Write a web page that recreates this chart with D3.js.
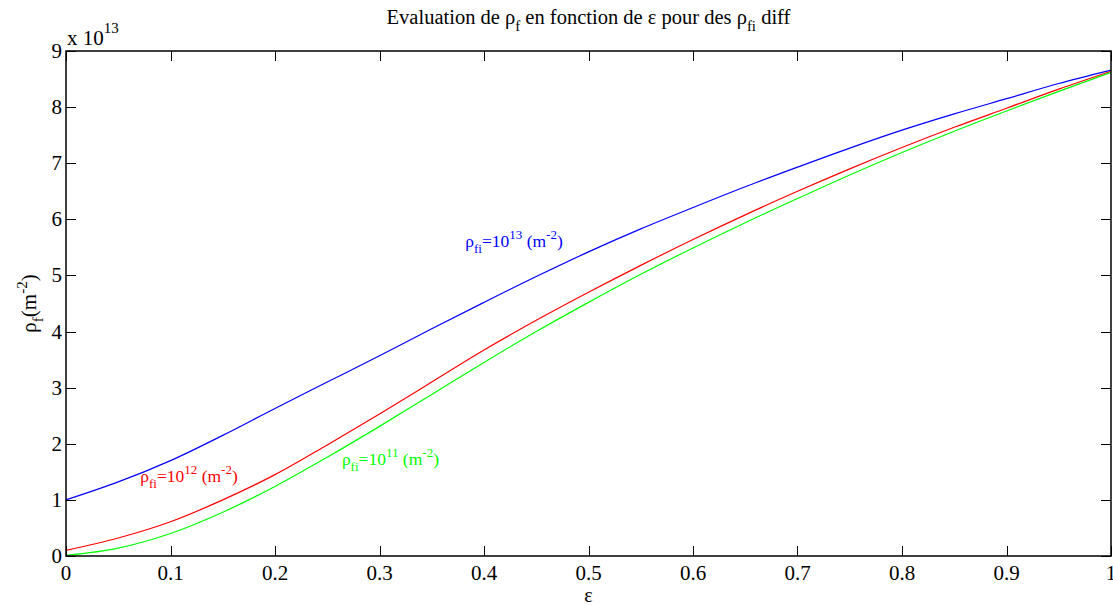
<!DOCTYPE html>
<html>
<head>
<meta charset="utf-8">
<script src="https://cdn.jsdelivr.net/npm/d3@7"></script>
<style>
  body { margin: 0; background: #fff; }
  text { font-family: "Liberation Serif", "Times New Roman", serif; }
</style>
</head>
<body>
<div id="chart"></div>
<script>
//---------------------------------- Data --------------------
var eps = [0, 0.05, 0.1, 0.15, 0.2, 0.25, 0.3, 0.35, 0.4, 0.45, 0.5,
           0.55, 0.6, 0.65, 0.7, 0.75, 0.8, 0.85, 0.9, 0.95, 1];
// rho_f in units of 1e13 m^-2
var rho13 = [1.0, 1.32, 1.70, 2.15, 2.63, 3.10, 3.57, 4.05, 4.52, 4.98, 5.42,
             5.83, 6.21, 6.58, 6.93, 7.27, 7.59, 7.88, 8.15, 8.42, 8.66];
var rho12 = [0.10, 0.32, 0.61, 1.00, 1.45, 1.98, 2.53, 3.10, 3.67, 4.20, 4.70,
             5.18, 5.64, 6.08, 6.50, 6.90, 7.28, 7.64, 7.98, 8.32, 8.64];
var rho11 = [0.01, 0.14, 0.40, 0.78, 1.24, 1.76, 2.31, 2.88, 3.45, 4.00, 4.52,
             5.02, 5.49, 5.94, 6.37, 6.79, 7.19, 7.57, 7.93, 8.28, 8.62];

var xTicks = [0, 0.1, 0.2, 0.3, 0.4, 0.5, 0.6, 0.7, 0.8, 0.9, 1];
var xTickLabels = ["0", "0.1", "0.2", "0.3", "0.4", "0.5", "0.6", "0.7", "0.8", "0.9", "1"];
var yTicks = [0, 1, 2, 3, 4, 5, 6, 7, 8, 9];

var seriesExp = ["13", "12", "11"];
var seriesColors = ["#0000ff", "#ff0000", "#00ff00"];
// label anchor (data units, left/baseline)
var labelX = [0.382, 0.071, 0.264];
var labelY = [5.50, 1.31, 1.62];

//---------------------------------- Layout --------------------
var width = 1113, height = 605;
var mLeft = 66, mRight = 1111, mTop = 51, mBottom = 556;
var tickLen = 10;

var svg = d3.select("#chart").append("svg")
  .attr("width", width)
  .attr("height", height)
  .style("display", "block");

svg.append("rect").attr("width", width).attr("height", height).attr("fill", "#fff");

var x_scale = d3.scaleLinear().domain([0, 1]).range([mLeft, mRight]);
var y_scale = d3.scaleLinear().domain([0, 9]).range([mBottom, mTop]);

//---------------------------------- Curves --------------------
var line = d3.line()
  .x(function(d) { return x_scale(d[0]); })
  .y(function(d) { return y_scale(d[1]); })
  .curve(d3.curveCatmullRom.alpha(0.5));

[rho13, rho12, rho11].forEach(function(vals, i) {
  svg.append("path")
    .datum(eps.map(function(e, j) { return [e, vals[j]]; }))
    .attr("d", line)
    .attr("fill", "none")
    .attr("stroke", seriesColors[i])
    .attr("stroke-width", 1.2);
});

//---------------------------------- Axes (box, inward ticks) --------------------
var ax = svg.append("g").attr("stroke", "#000").attr("stroke-width", 1);

ax.append("rect")
  .attr("x", mLeft).attr("y", mTop)
  .attr("width", mRight - mLeft).attr("height", mBottom - mTop)
  .attr("fill", "none")
  .attr("stroke-width", 1.5);

xTicks.forEach(function(t) {
  var px = Math.round(x_scale(t)) + 0.5;
  ax.append("line").attr("x1", px).attr("x2", px).attr("y1", mBottom).attr("y2", mBottom - tickLen);
  ax.append("line").attr("x1", px).attr("x2", px).attr("y1", mTop).attr("y2", mTop + tickLen);
});
yTicks.forEach(function(t) {
  var py = Math.round(y_scale(t)) + 0.5;
  ax.append("line").attr("x1", mLeft).attr("x2", mLeft + tickLen).attr("y1", py).attr("y2", py);
  ax.append("line").attr("x1", mRight).attr("x2", mRight - tickLen).attr("y1", py).attr("y2", py);
});

svg.selectAll(".xlab").data(xTicks).enter().append("text")
  .attr("class", "xlab")
  .attr("x", function(d) { return x_scale(d); })
  .attr("y", 580)
  .attr("text-anchor", "middle")
  .attr("font-size", 21)
  .text(function(d, i) { return xTickLabels[i]; });

svg.selectAll(".ylab").data(yTicks).enter().append("text")
  .attr("class", "ylab")
  .attr("x", 62)
  .attr("y", function(d) { return y_scale(d) + 7; })
  .attr("text-anchor", "end")
  .attr("font-size", 21)
  .text(function(d) { return d; });

// exponent
var expo = svg.append("text").attr("x", 67).attr("y", 45).attr("font-size", 21);
expo.append("tspan").text("x 10");
expo.append("tspan").attr("dy", -12).attr("font-size", 15).text("13");

//---------------------------------- Title and axis labels --------------------
var title = svg.append("text")
  .attr("x", (mLeft + mRight) / 2).attr("y", 24)
  .attr("text-anchor", "middle")
  .attr("font-size", 20.5);
title.append("tspan").text("Evaluation de ρ");
title.append("tspan").attr("dy", 7).attr("font-size", 15).text("f");
title.append("tspan").attr("dy", -7).text(" en fonction de ε pour des ρ");
title.append("tspan").attr("dy", 7).attr("font-size", 15).text("fi");
title.append("tspan").attr("dy", -7).text(" diff");

svg.append("text")
  .attr("x", (mLeft + mRight) / 2).attr("y", 602)
  .attr("text-anchor", "middle")
  .attr("font-size", 20)
  .text("ε");

var ylab = svg.append("text")
  .attr("transform", "translate(36," + ((mTop + mBottom) / 2) + ") rotate(-90)")
  .attr("text-anchor", "middle")
  .attr("font-size", 21);
ylab.append("tspan").text("ρ");
ylab.append("tspan").attr("dy", 7).attr("font-size", 15).text("f");
ylab.append("tspan").attr("dy", -7).text("(m");
ylab.append("tspan").attr("dy", -9).attr("font-size", 15).text("-2");
ylab.append("tspan").attr("dy", 9).text(")");

//---------------------------------- Series labels --------------------
seriesExp.forEach(function(ex, i) {
  var t = svg.append("text")
    .attr("x", x_scale(labelX[i]))
    .attr("y", y_scale(labelY[i]))
    .attr("fill", seriesColors[i])
    .attr("font-size", 17.5);
  t.append("tspan").text("ρ");
  t.append("tspan").attr("dy", 6).attr("font-size", 13).text("fi");
  t.append("tspan").attr("dy", -6).text("=10");
  t.append("tspan").attr("dy", -8).attr("font-size", 13).text(ex);
  t.append("tspan").attr("dy", 8).text(" (m");
  t.append("tspan").attr("dy", -8).attr("font-size", 13).text("-2");
  t.append("tspan").attr("dy", 8).text(")");
});
</script>
</body>
</html>
